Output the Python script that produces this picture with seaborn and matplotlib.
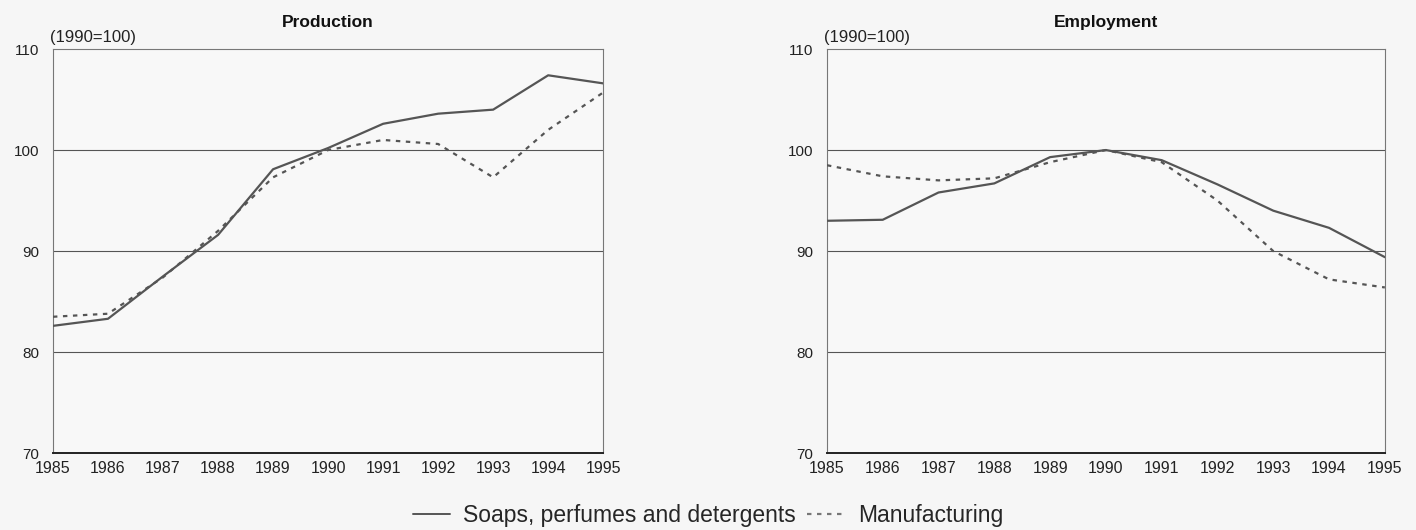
import numpy as np
import pandas as pd
import matplotlib
matplotlib.use("Agg")
import matplotlib.pyplot as plt
import seaborn as sns

years = list(range(1985, 1996))
series_names = ["Soaps, perfumes and detergents", "Manufacturing"]

# Production index (1990=100)
prod_soaps = [82.6, 83.3, 87.5, 91.6, 98.1, 100.2, 102.6, 103.6, 104.0, 107.4, 106.6]
prod_manuf = [83.5, 83.8, 87.4, 92.0, 97.3, 100.0, 101.0, 100.6, 97.3, 102.0, 105.7]

# Employment index (1990=100)
emp_soaps = [93.0, 93.1, 95.8, 96.7, 99.3, 100.0, 99.0, 96.6, 94.0, 92.3, 89.4]
emp_manuf = [98.5, 97.4, 97.0, 97.2, 98.8, 100.0, 98.8, 95.0, 90.0, 87.2, 86.4]

panel_titles = ["Production", "Employment"]


def long_frame(soaps, manuf):
    return pd.DataFrame({
        "year": years * 2,
        "value": soaps + manuf,
        "series": [series_names[0]] * len(years) + [series_names[1]] * len(years),
    })


sns.set_style("white")
plt.rcParams['font.family'] = ['Liberation Sans', 'DejaVu Sans']

fig = plt.figure(figsize=(14.16, 5.30), dpi=100)
fig.patch.set_facecolor("#f6f6f6")
ax1 = fig.add_axes([0.0374, 0.145, 0.3886, 0.7625])
ax2 = fig.add_axes([0.584, 0.145, 0.394, 0.7625])

frames = [long_frame(prod_soaps, prod_manuf), long_frame(emp_soaps, emp_manuf)]

for ax, df, title in zip([ax1, ax2], frames, panel_titles):
    ax.set_facecolor("#f8f8f8")
    for g in [80, 90, 100]:
        ax.axhline(g, color="#555555", lw=0.8, zorder=1)
    sns.lineplot(data=df, x="year", y="value", style="series",
                 color="#555555", lw=1.6, dashes={series_names[0]: "", series_names[1]: (2, 2.5)},
                 ax=ax, legend=False, zorder=3)
    ax.set_xlim(1985, 1995)
    ax.set_ylim(70, 110)
    ax.set_xticks(years)
    ax.set_yticks([70, 80, 90, 100, 110])
    ax.tick_params(axis="x", direction="in", length=4, color="#444444",
                   labelsize=11.5, pad=6, labelcolor="#222222")
    ax.tick_params(axis="y", length=0, labelsize=11, pad=10, labelcolor="#222222")
    for s in ax.spines.values():
        s.set_color("#777777")
        s.set_linewidth(0.8)
    ax.spines["bottom"].set_color("#222222")
    ax.spines["bottom"].set_linewidth(1.4)
    ax.set_xlabel("")
    ax.set_ylabel("")
    ax.set_title(title, fontsize=12.5, fontweight="bold", pad=16, color="#111111")
    ax.text(-0.005, 1.01, "(1990=100)", transform=ax.transAxes, fontsize=12,
            ha="left", va="bottom", color="#222222")

handles = [
    plt.Line2D([], [], color="#555555", lw=1.4, ls="-"),
    plt.Line2D([], [], color="#777777", lw=1.6, ls=(0, (2, 2.5))),
]
fig.legend(handles, series_names, loc="center", bbox_to_anchor=(0.5, 0.027),
           ncol=2, frameon=False, fontsize=16.5, handlelength=1.6, columnspacing=0.5,
           handletextpad=0.6)

fig.savefig("out.png", dpi=100, facecolor=fig.get_facecolor())
